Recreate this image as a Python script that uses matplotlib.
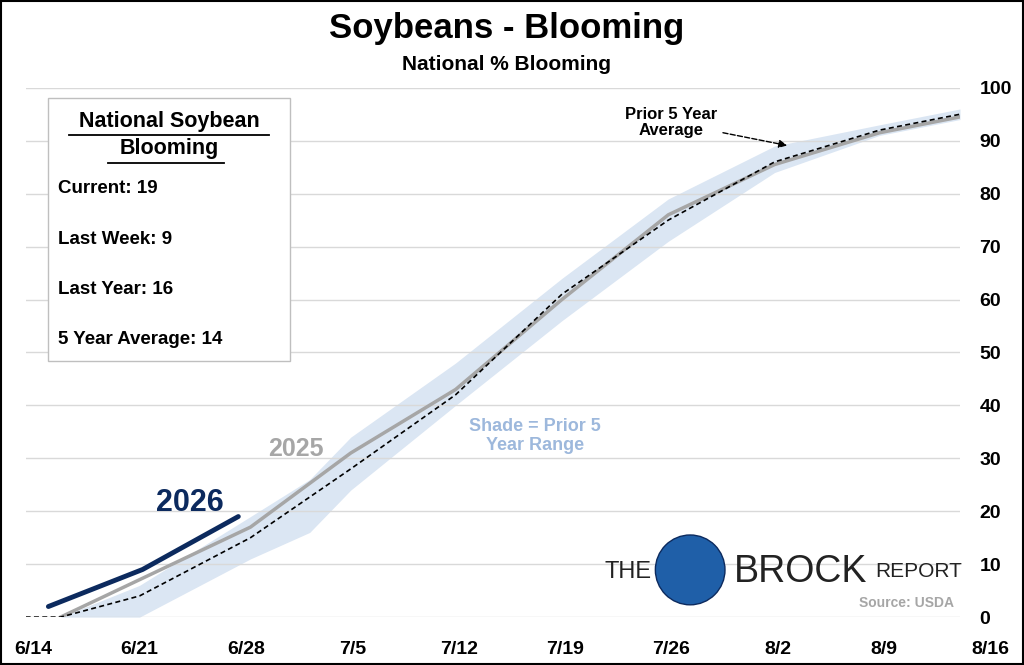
import matplotlib.pyplot as plt
from matplotlib.patches import Rectangle, Ellipse
from matplotlib.lines import Line2D

# x in days after 6/14
tick_days = [0, 7, 14, 21, 28, 35, 42, 49, 56, 63]
tick_labels = ['6/14', '6/21', '6/28', '7/5', '7/12', '7/19', '7/26', '8/2', '8/9', '8/16']

x2026 = [1.0, 7.2, 13.5]
y2026 = [2, 9, 19]

x2025 = [1.8, 14.3, 20.9, 27.8, 34.8, 41.8, 48.8, 55.7, 61.0]
y2025 = [0, 17, 31, 43, 60, 76, 85.5, 91.5, 94.5]

xavg = [-0.5, 1.8, 7.0, 14.3, 20.9, 27.8, 34.8, 41.8, 48.8, 55.7, 61.0]
yavg = [0, 0, 4, 15, 28, 42, 61, 75, 86, 92, 95]

xrng = [1.8, 7.0, 14.3, 18.2, 20.9, 27.8, 34.8, 41.8, 48.8, 55.7, 61.0]
rng_lo = [0, 0, 11, 16, 24, 40, 56, 71, 84, 91, 94]
rng_hi = [0, 6, 19, 26, 34, 48, 64, 79, 89, 93, 96]

plt.rcParams['font.family'] = ['Liberation Sans', 'DejaVu Sans']
fig = plt.figure(figsize=(10.24, 6.65), dpi=100)
ax = fig.add_axes([0.025, 0.072, 0.9125, 0.796])
ax.set_xlim(-0.5, 61)
ax.set_ylim(0, 100)

ax.fill_between(xrng, rng_lo, rng_hi, color='#dbe6f3', lw=0)
ax.plot(x2025, y2025, color='#a6a6a6', lw=2.5)
ax.plot(xavg, yavg, color='black', lw=1.2, ls=(0, (3, 2)))
ax.plot(x2026, y2026, color='#0c2a5e', lw=3.5, solid_capstyle='round')

ax.set_yticks(range(0, 101, 10))
ax.yaxis.tick_right()
ax.tick_params(axis='y', length=0, labelsize=14, pad=14)
for t in ax.get_yticklabels():
    t.set_fontweight('bold')
ax.set_xticks([])
for d, lab in zip(tick_days, tick_labels):
    ax.text(d, -4.5, lab, ha='center', va='top', fontsize=14, fontweight='bold', clip_on=False)
ax.grid(axis='y', color='#d9d9d9', lw=1)
for s in ax.spines.values():
    s.set_visible(False)

ax.text(10.3, 20, '2026', color='#0c2a5e', fontsize=22, fontweight='bold', ha='center')
ax.text(17.3, 30.5, '2025', color='#a6a6a6', fontsize=18, fontweight='bold', ha='center')
ax.text(33, 31.5, 'Shade = Prior 5\nYear Range', color='#9db8dc', fontsize=13,
        fontweight='bold', ha='center', linespacing=1.2)
ax.annotate('Prior 5 Year\nAverage', xy=(49.8, 89), xytext=(42, 90.5), fontsize=12,
            fontweight='bold', ha='center', va='bottom', linespacing=1.1,
            arrowprops=dict(arrowstyle='-|>', ls='--', color='black', lw=1))

fig.text(0.495, 0.957, 'Soybeans - Blooming', ha='center', va='center', fontsize=25, fontweight='bold')
fig.text(0.495, 0.903, 'National % Blooming', ha='center', va='center', fontsize=15, fontweight='bold')

# info box
fig.patches.append(Rectangle((0.047, 0.457), 0.236, 0.395, transform=fig.transFigure,
                             fill=True, fc='white', ec='#bfbfbf', lw=1))
fig.text(0.165, 0.818, 'National Soybean', ha='center', va='center', fontsize=15.5, fontweight='bold')
fig.text(0.165, 0.776, 'Blooming', ha='center', va='center', fontsize=15.5, fontweight='bold')
fig.lines.append(Line2D([0.067, 0.263], [0.797, 0.797], transform=fig.transFigure, color='black', lw=1.3))
fig.lines.append(Line2D([0.105, 0.219], [0.755, 0.755], transform=fig.transFigure, color='black', lw=1.3))
for yy, s in zip([0.716, 0.640, 0.565, 0.489],
                 ['Current: 19', 'Last Week: 9', 'Last Year: 16', '5 Year Average: 14']):
    fig.text(0.057, yy, s, ha='left', va='center', fontsize=13.5, fontweight='bold')

# logo
fig.text(0.59, 0.14, 'THE', fontsize=17, color='#222222', va='center')
fig.patches.append(Ellipse((0.674, 0.143), 0.068, 0.105, transform=fig.transFigure,
                           fc='#1f5fa8', ec='#0c2a5e', lw=1))
fig.text(0.717, 0.14, 'BROCK', fontsize=27, color='#222222', va='center')
fig.text(0.855, 0.14, 'REPORT', fontsize=15, color='#222222', va='center')
fig.text(0.932, 0.087, 'Source: USDA', fontsize=10, color='#a6a6a6', fontweight='bold', ha='right')

fig.patches.append(Rectangle((0.001, 0.001), 0.998, 0.998, transform=fig.transFigure,
                             fill=False, ec='black', lw=1.5))
fig.savefig('out.png', dpi=100)
